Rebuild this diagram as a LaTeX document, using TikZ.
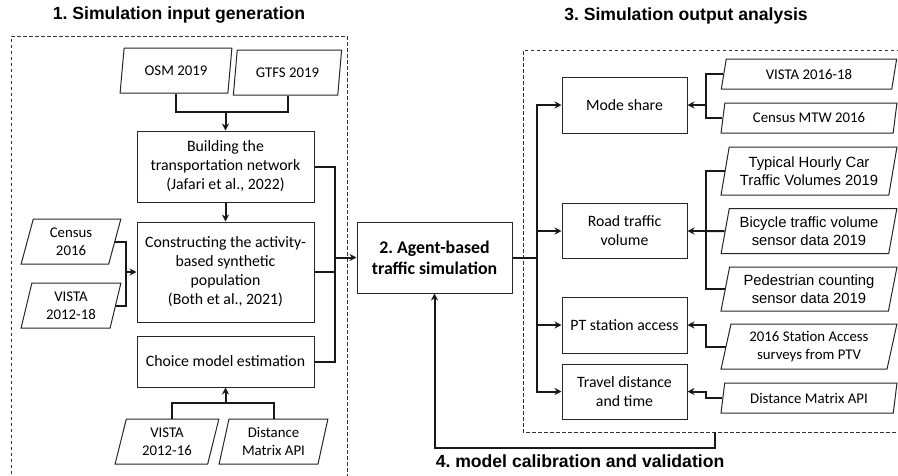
\documentclass[tikz,border=0pt]{standalone}
\usepackage{fontspec}
\setmainfont{Carlito}
\newfontfamily\arialf{Liberation Sans}
\usetikzlibrary{shapes.geometric,arrows.meta,calc}
\frenchspacing
\tikzset{
  x=1pt,y=-1pt,
  procbox/.style={draw=black!85,line width=1pt,inner sep=1pt,align=center,font=\fontsize{15.8}{19}\selectfont},
  databox/.style={trapezium,trapezium left angle=76,trapezium right angle=104,trapezium stretches=true,
     draw=black!85,line width=1pt,inner sep=0pt,align=center,font=\fontsize{14.8}{17.7}\selectfont},
  ardata/.style={databox,font=\arialf\fontsize{14.8}{17.5}\selectfont},
  heading/.style={font=\arialf\bfseries\fontsize{17.6}{20}\selectfont,inner sep=0pt},
  region/.style={draw=black!80,dash pattern=on 3.5pt off 2.5pt,line width=1pt},
  link/.style={line width=2pt,black!90},
  arrowlink/.style={line width=2pt,black!90,-{Stealth[length=7pt,width=7pt]}},
}
\begin{document}
\begin{tikzpicture}
\useasboundingbox (0,0) rectangle (898,475);
\clip (0,0) rectangle (898,475);
% regions
\draw[region] (11,480) -- (11,36) -- (347,36) -- (347,480);
\draw[region] (900,50) -- (523,50) -- (523,432) -- (900,432);
\coordinate (calib) at (715,432);
% headings
\node[heading] (h1) at (179,15) {1. Simulation input generation};
\node[heading] (h3) at (686,16) {3. Simulation output analysis};
\node[heading] (h4) at (580,461) {4. model calibration and validation};
% boxes
\node[procbox,minimum width=177pt,minimum height=71pt] (net) at (225.5,166.5) {Building the\\transportation network\\(Jafari et al., 2022)};
\node[procbox,minimum width=177pt,minimum height=100pt] (pop) at (225.5,272) {Constructing the activity-\\based synthetic\\population\\(Both et al., 2021)};
\node[procbox,minimum width=177pt,minimum height=51pt] (choice) at (225.5,361.5) {Choice model estimation};
\node[procbox,minimum width=155pt,minimum height=71pt,font=\bfseries\fontsize{17.8}{21}\selectfont] (abm) at (434.5,257.5) {2. Agent-based\\traffic simulation};
\node[procbox,minimum width=125pt,minimum height=56pt] (mode) at (624.5,105) {Mode share};
\node[procbox,minimum width=125pt,minimum height=55pt] (road) at (624.5,231) {Road traffic\\volume};
\node[procbox,minimum width=125pt,minimum height=56pt] (pt) at (624.5,325) {PT station access};
\node[procbox,minimum width=125pt,minimum height=55pt] (travel) at (624.5,391.5) {Travel distance\\and time};
% data
\node[databox,minimum width=112pt,minimum height=45pt] (osm) at (176,70.5) {OSM 2019};
\node[databox,minimum width=109pt,minimum height=45pt] (gtfs) at (287.5,72.5) {GTFS 2019};
\node[databox,minimum width=100pt,minimum height=45pt] (census) at (71,241.5) {Census\\2016};
\node[databox,minimum width=100pt,minimum height=45pt] (vb) at (71,305.5) {VISTA\\2012-18};
\node[databox,minimum width=104pt,minimum height=45pt] (vc) at (167,441.5) {VISTA\\2012-16};
\node[databox,minimum width=109pt,minimum height=45pt] (dma) at (273.5,441.5) {Distance\\Matrix API};
\node[databox,minimum width=176pt,minimum height=30pt] (vd) at (809,74) {VISTA 2016-18};
\node[databox,minimum width=176pt,minimum height=30pt] (mtw) at (809,118) {Census MTW 2016};
\node[ardata,minimum width=176pt,minimum height=48pt] (typ) at (809,171) {Typical Hourly Car\\Traffic Volumes 2019};
\node[ardata,minimum width=176pt,minimum height=45pt] (bic) at (809,231) {Bicycle traffic volume\\sensor data 2019};
\node[ardata,minimum width=176pt,minimum height=44pt] (ped) at (809,289) {Pedestrian counting\\sensor data 2019};
\node[databox,minimum width=176pt,minimum height=45pt] (sta) at (809,346.5) {2016 Station Access\\surveys from PTV};
\node[databox,minimum width=176pt,minimum height=30pt] (dmb) at (809,398) {Distance Matrix API};
% junctions
\coordinate (jtop) at (225.5,112);
\coordinate (jleft) at (126,272);
\coordinate (jbot) at (225.5,403);
\coordinate (jin) at (335,257.5);
\coordinate (jout) at (537,257.5);
% input links
\draw[link] (osm.south) |- (jtop) -| (gtfs.south);
\draw[arrowlink] (jtop) -- (net.north);
\draw[arrowlink] (net.south) -- (pop.north);
\draw[link] (census.east) -| (jleft) |- (vb.east);
\draw[arrowlink] (jleft) -- (pop.west);
\draw[link] ([xshift=5pt]vc.north) |- (jbot) -| (dma.north);
\draw[arrowlink] (jbot) -- (choice.south);
\draw[link] (net.east) -| (jin);
\draw[link] (pop.east) -| (jin);
\draw[link] (choice.east) -| (jin);
\draw[arrowlink] (jin) -- (abm.west);
% output links
\draw[link] (abm.east) -- (jout);
\draw[arrowlink] (jout) |- (mode.west);
\draw[arrowlink] (jout) |- (road.west);
\draw[arrowlink] (jout) |- (pt.west);
\draw[arrowlink] (jout) |- (travel.west);
% validation data
\coordinate (ja) at (705.5,105);
\draw[link] (vd.west) -| (ja) |- (mtw.west);
\draw[arrowlink] (ja) -- (mode.east);
\coordinate (jb) at (706,231);
\draw[link] (typ.west) -| (jb) |- (ped.west);
\draw[link] (bic.west) -- (jb);
\draw[arrowlink] (jb) -- (road.east);
\coordinate (jc) at (706,325);
\draw[arrowlink] (sta.west) -| (jc) -- (pt.east);
\coordinate (jd) at (706,391.5);
\draw[arrowlink] (dmb.west) -| (jd) -- (travel.east);
% calibration
\coordinate (ce) at (434.5,448);
\draw[arrowlink] (calib) |- (ce) -- (abm.south);
\end{tikzpicture}
\end{document}
